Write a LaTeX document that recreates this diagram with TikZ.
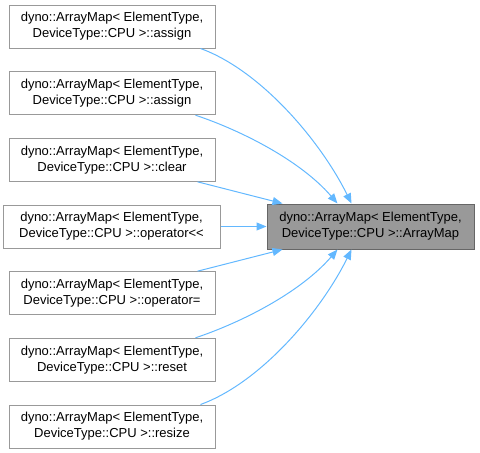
\documentclass[tikz,border=0pt]{standalone}
\usepackage{fontspec}
\setmainfont{Liberation Sans}
\usetikzlibrary{arrows.meta}
\definecolor{edgeblue}{HTML}{63B8FF}
\definecolor{boxborder}{HTML}{999999}
\definecolor{centerfill}{HTML}{999999}
\definecolor{centerborder}{HTML}{666666}
\begin{document}
\begin{tikzpicture}[x=1pt,y=-1pt,
  leafbox/.style={draw=boxborder,fill=white,line width=1pt,minimum width=206pt,minimum height=43pt,inner sep=0pt,align=center,font=\fontsize{13}{16}\selectfont,text=black},
  mainbox/.style={leafbox,draw=centerborder,fill=centerfill,minimum width=207pt,minimum height=45pt},
  edge/.style={draw=edgeblue,line width=1pt,-{Triangle[length=10pt,width=8pt]}}]
\useasboundingbox (0,0) rectangle (480,453);
\node[mainbox] (c) at (370.5,226.5) {dyno::ArrayMap< ElementType,\\DeviceType::CPU >::ArrayMap};
\node[leafbox] (b1) at (112,26.5) {dyno::ArrayMap< ElementType,\\DeviceType::CPU >::assign};
\node[leafbox] (b2) at (112,93.2) {dyno::ArrayMap< ElementType,\\DeviceType::CPU >::assign};
\node[leafbox] (b3) at (112,159.8) {dyno::ArrayMap< ElementType,\\DeviceType::CPU >::clear};
\node[leafbox,minimum width=217pt] (b4) at (111.5,226.5) {dyno::ArrayMap< ElementType,\\DeviceType::CPU >::operator{<}{<}};
\node[leafbox] (b5) at (112,293.2) {dyno::ArrayMap< ElementType,\\DeviceType::CPU >::operator=};
\node[leafbox] (b6) at (112,359.8) {dyno::ArrayMap< ElementType,\\DeviceType::CPU >::reset};
\node[leafbox] (b7) at (112,426.5) {dyno::ArrayMap< ElementType,\\DeviceType::CPU >::resize};
\draw[edge] ([xshift=-15pt]b1.south east) .. controls (260,70) and (320,140) .. ([xshift=85pt]c.north west);
\draw[edge] ([xshift=-20pt]b2.south east) .. controls (240,130) and (300,160) .. ([xshift=71pt]c.north west);
\draw[edge] ([xshift=-18pt]b3.south east) -- ([xshift=16pt]c.north west);
\draw[edge] (b4.east) -- (c.west);
\draw[edge] ([xshift=-18pt]b5.north east) -- ([xshift=16pt]c.south west);
\draw[edge] ([xshift=-20pt]b6.north east) .. controls (240,323) and (300,293) .. ([xshift=71pt]c.south west);
\draw[edge] ([xshift=-15pt]b7.north east) .. controls (260,383) and (320,313) .. ([xshift=85pt]c.south west);
\end{tikzpicture}
\end{document}
